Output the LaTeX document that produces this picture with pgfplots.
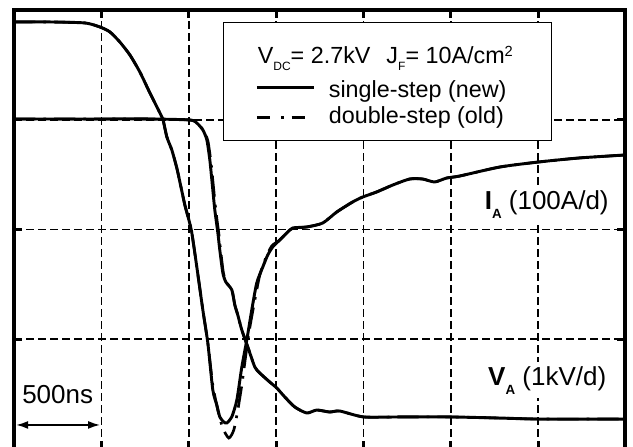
\documentclass[border=0pt]{standalone}
\usepackage{fontspec}
\setmainfont{Liberation Sans}
\usepackage{pgfplots}
\pgfplotsset{compat=1.18}
\usetikzlibrary{arrows.meta}
\pgfplotsset{ddimg/.style={legend image code/.code={\draw[##1] (0pt,0pt) -- (42.75pt,0pt);}}}
\newcommand\lsub[1]{\raisebox{-5.5pt}{\fontsize{9}{9}\selectfont #1}}
\newcommand\lsup[1]{\raisebox{5pt}{\fontsize{11}{11}\selectfont #1}}
\newcommand\bsub[1]{\raisebox{-6.75pt}{\fontsize{10}{10}\selectfont\bfseries #1}}
\begin{document}
\begin{tikzpicture}
\useasboundingbox (-10.5pt,1.5pt) rectangle (464.25pt,336.75pt);
\begin{axis}[
  at={(0pt,0pt)}, anchor=south west,
  scale only axis, width=458.6pt, height=329.25pt,
  xmin=0, xmax=7, ymin=0, ymax=4,
  xtick={1,2,3,4,5,6}, ytick={1,2,3},
  xticklabels={}, yticklabels={},
  tick align=inside, major tick length=6pt,
  tick style={line width=2.2pt, black},
  grid=major,
  major grid style={line width=1.2pt, black, dash pattern=on 6pt off 3pt},
  axis line style={draw=none},
  clip=false,
  legend image code/.code={\draw[#1] (0pt,2.9pt) -- (42.75pt,2.9pt);},
  legend cell align=left,
  legend style={at={(axis cs:2.39,3.891)}, anchor=north west,
    draw=black, line width=0.8pt, fill=white,
    font=\fontsize{17.5}{20}\selectfont,
    inner xsep=24pt, inner ysep=8.5pt, row sep=1.85pt,
    nodes={inner xsep=10pt, inner ysep=0.5pt, text height=12.9pt, text depth=3.75pt}},
]
% double-step (old) I_A
\addplot[black, line width=2pt, smooth, tension=0.4, forget plot,
  dash pattern=on 16pt off 6pt on 2pt off 6pt] coordinates {
(0,3.891) (0.412,3.891) (0.812,3.882) (0.984,3.845) (1.098,3.800) (1.212,3.708)
(1.327,3.590) (1.441,3.435) (1.556,3.244) (1.670,3.062) (1.704,3.007) (1.750,2.843)
(1.807,2.724) (1.864,2.560) (1.899,2.433) (1.956,2.223) (2.002,2.087) (2.036,1.968)
(2.093,1.658) (2.162,1.266) (2.219,0.966) (2.276,0.583) (2.333,0.355) (2.390,0.191)
(2.459,0.100) (2.516,0.173) (2.562,0.355) (2.608,0.583) (2.654,0.857) (2.699,1.103)
(2.757,1.358) (2.814,1.585) (2.882,1.740) (2.951,1.850) (3.042,1.904) (3.123,1.968)
(3.191,2.014) (3.351,2.023) (3.534,2.059) (3.694,2.159) (3.877,2.251) (3.992,2.296)
(4.152,2.342) (4.335,2.405) (4.529,2.460) (4.678,2.460) (4.815,2.433) (4.953,2.469)
(5.101,2.487) (5.559,2.569) (6.005,2.615) (6.474,2.652) (7.0,2.679)};
% double-step (old) V_A
\addplot[black, line width=2pt, smooth, tension=0.4, forget plot,
  dash pattern=on 16pt off 6pt on 2pt off 6pt] coordinates {
(0,3.007) (0.984,3.007) (1.556,3.007) (2.013,2.998) (2.100,2.966) (2.172,2.900)
(2.220,2.805) (2.254,2.620) (2.277,2.440) (2.311,2.170) (2.345,1.960) (2.366,1.806)
(2.398,1.600) (2.430,1.520) (2.494,1.449) (2.528,1.312) (2.562,1.221) (2.608,1.084)
(2.677,0.929) (2.757,0.747) (2.814,0.692) (2.928,0.610) (3.008,0.556) (3.100,0.474)
(3.214,0.383) (3.351,0.328) (3.466,0.355) (3.614,0.337) (3.729,0.346) (4.003,0.292)
(4.415,0.292) (4.998,0.292) (5.559,0.282) (6.005,0.273) (7.0,0.273)};
% single-step (new) I_A
\addplot[black, line width=2.2pt, smooth, tension=0.4, forget plot] coordinates {
(0,3.891) (0.412,3.891) (0.812,3.882) (0.984,3.845) (1.098,3.800) (1.212,3.708)
(1.327,3.590) (1.441,3.435) (1.556,3.244) (1.670,3.062) (1.704,3.007) (1.750,2.843)
(1.807,2.724) (1.864,2.560) (1.899,2.433) (1.956,2.223) (2.002,2.087) (2.036,1.968)
(2.093,1.658) (2.162,1.266) (2.219,0.966) (2.276,0.538) (2.322,0.401) (2.356,0.292)
(2.402,0.246) (2.436,0.237) (2.493,0.292) (2.551,0.446) (2.608,0.747) (2.665,0.993)
(2.722,1.267) (2.779,1.513) (2.848,1.658) (2.905,1.768) (2.962,1.841) (3.042,1.904)
(3.123,1.968) (3.191,2.014) (3.351,2.023) (3.534,2.059) (3.694,2.159) (3.877,2.251)
(3.992,2.296) (4.152,2.342) (4.335,2.405) (4.529,2.460) (4.678,2.460) (4.815,2.433)
(4.953,2.469) (5.101,2.487) (5.559,2.569) (6.005,2.615) (6.474,2.652) (7.0,2.679)};
% single-step (new) V_A
\addplot[black, line width=2.2pt, smooth, tension=0.4, forget plot] coordinates {
(0,3.007) (0.984,3.007) (1.556,3.007) (2.013,2.998) (2.093,2.970) (2.162,2.907)
(2.208,2.816) (2.242,2.633) (2.265,2.451) (2.299,2.178) (2.334,1.968) (2.356,1.813)
(2.391,1.604) (2.425,1.522) (2.494,1.449) (2.528,1.312) (2.562,1.221) (2.608,1.084)
(2.677,0.929) (2.757,0.747) (2.814,0.692) (2.928,0.610) (3.008,0.556) (3.100,0.474)
(3.214,0.383) (3.351,0.328) (3.466,0.355) (3.614,0.337) (3.729,0.346) (4.003,0.292)
(4.415,0.292) (4.998,0.292) (5.559,0.282) (6.005,0.273) (7.0,0.273)};
% legend
\addlegendimage{legend image code/.code={}}
\addlegendentry[text height=21.75pt, text depth=9.75pt]{\hspace*{-53.25pt}V\lsub{DC}= 2.7kV\hspace{12pt}J\lsub{F}= 10A/cm\lsup{2}\hspace*{-7.75pt}}
\addlegendimage{black, line width=2.4pt}
\addlegendentry{single-step (new)}
\addlegendimage{ddimg, black, line width=2.4pt, dash pattern=on 10pt off 8pt on 2pt off 6pt}
\addlegendentry{double-step (old)}
% frame
\draw[line width=3pt, line join=miter] (rel axis cs:0,0) -- (rel axis cs:0,1) -- (rel axis cs:1,1) -- (rel axis cs:1,0);
% labels
\node[anchor=base west, inner sep=3pt, xshift=-3pt, fill=white, font=\fontsize{19.5}{22}\selectfont] at (axis cs:5.387,2.178) {\textbf{I\bsub{A}} (100A/d)};
\node[anchor=base west, inner sep=3pt, xshift=-3pt, fill=white, font=\fontsize{19.5}{22}\selectfont] at (axis cs:5.426,0.583) {\textbf{V\bsub{A}} (1kV/d)};
\node[anchor=base west, inner sep=0pt, font=\fontsize{19.5}{22}\selectfont] at (axis cs:0.0916,0.419) {500ns};
\draw[{Latex[length=9pt,width=6pt]}-{Latex[length=9pt,width=6pt]}, line width=1.2pt] (axis cs:0.025,0.219) -- (axis cs:0.985,0.219);
\end{axis}
\end{tikzpicture}
\end{document}
